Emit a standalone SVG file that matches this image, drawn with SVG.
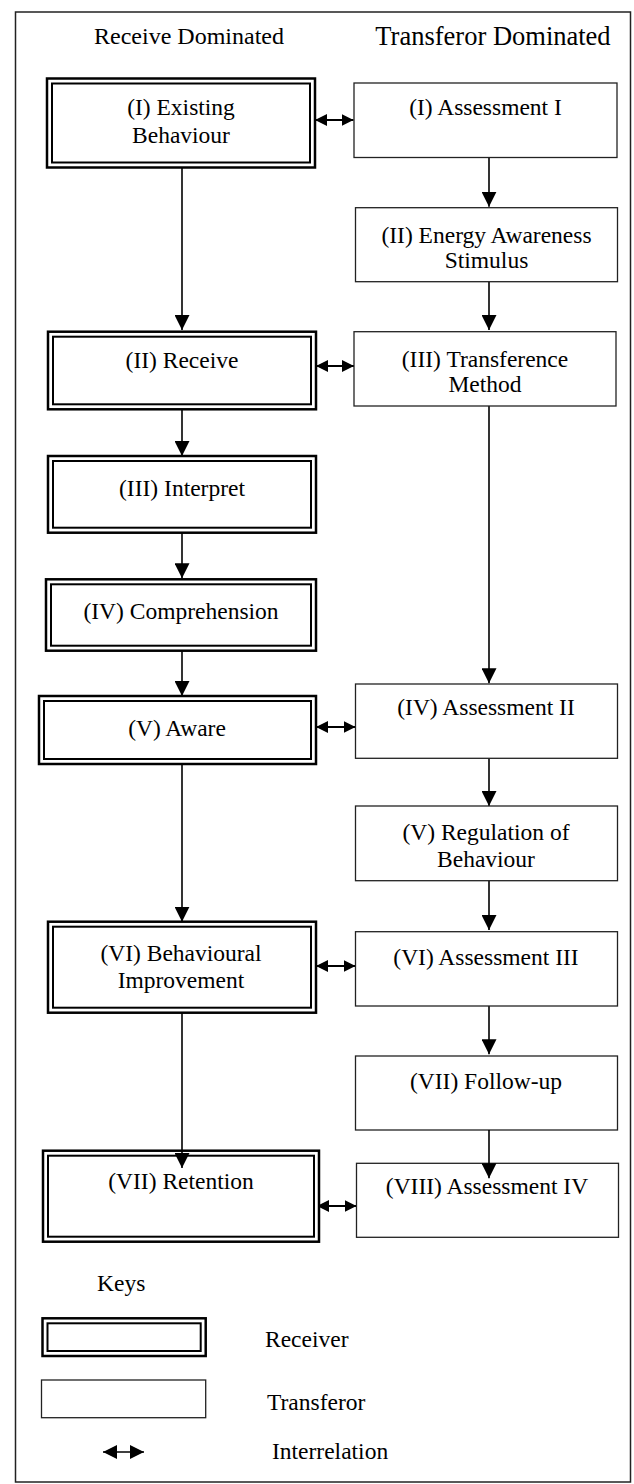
<svg xmlns="http://www.w3.org/2000/svg" width="634" height="1484" viewBox="0 0 634 1484">
<defs>
<marker id="ah" markerUnits="userSpaceOnUse" markerWidth="15" markerHeight="15" refX="15" refY="7.5" orient="auto" viewBox="0 0 15 15"><path d="M0,0 L15,7.5 L0,15 z" fill="#000"/></marker>
<marker id="dh" markerUnits="userSpaceOnUse" markerWidth="12" markerHeight="12" refX="12" refY="6" orient="auto-start-reverse" viewBox="0 0 12 12"><path d="M0,0 L12,6 L0,12 z" fill="#000"/></marker>
<marker id="kh" markerUnits="userSpaceOnUse" markerWidth="14" markerHeight="14" refX="14" refY="7" orient="auto-start-reverse" viewBox="0 0 14 14"><path d="M0,0 L14,7 L0,14 z" fill="#000"/></marker>
</defs>
<style>
.t{font-family:"Liberation Serif","Times New Roman",serif;font-size:23.5px;fill:#000;text-anchor:middle}
.k{font-family:"Liberation Serif","Times New Roman",serif;font-size:23.5px;fill:#000}
.o{fill:#fff;stroke:#000;stroke-width:2.5}
.i{fill:none;stroke:#000;stroke-width:2}
.s{fill:#fff;stroke:#222;stroke-width:1.3}
.c{stroke:#000;stroke-width:1.6;fill:none}
.d{stroke:#000;stroke-width:2;fill:none}
</style>
<rect x="15.5" y="12" width="615" height="1470" fill="#fff" stroke="#222" stroke-width="1.5"/>
<g id="headers">
<text class="t" x="189" y="43.5" style="font-size:24px">Receive Dominated</text>
<text class="t" x="493" y="45" style="font-size:26.5px">Transferor Dominated</text>
</g>
<g id="connectors">
<line class="c" x1="182" y1="168" x2="182" y2="330" marker-end="url(#ah)"/>
<line class="c" x1="182" y1="409.3" x2="182" y2="456" marker-end="url(#ah)"/>
<line class="c" x1="182" y1="532.7" x2="182" y2="578.3" marker-end="url(#ah)"/>
<line class="c" x1="182" y1="650.7" x2="182" y2="696" marker-end="url(#ah)"/>
<line class="c" x1="182" y1="764" x2="182" y2="921.7" marker-end="url(#ah)"/>
<line class="c" x1="489" y1="157.5" x2="489" y2="206.7" marker-end="url(#ah)"/>
<line class="c" x1="489" y1="281.7" x2="489" y2="330" marker-end="url(#ah)"/>
<line class="c" x1="489" y1="406" x2="489" y2="683.3" marker-end="url(#ah)"/>
<line class="c" x1="489" y1="758.3" x2="489" y2="806" marker-end="url(#ah)"/>
<line class="c" x1="489" y1="880.7" x2="489" y2="930" marker-end="url(#ah)"/>
<line class="c" x1="489" y1="1006" x2="489" y2="1054.3" marker-end="url(#ah)"/>
<line class="d" x1="315" y1="120" x2="353.5" y2="120" marker-start="url(#dh)" marker-end="url(#dh)"/>
<line class="d" x1="316" y1="366" x2="354" y2="366" marker-start="url(#dh)" marker-end="url(#dh)"/>
<line class="d" x1="316" y1="727" x2="355.5" y2="727" marker-start="url(#dh)" marker-end="url(#dh)"/>
<line class="d" x1="316" y1="966" x2="355.5" y2="966" marker-start="url(#dh)" marker-end="url(#dh)"/>
<line class="d" x1="317" y1="1206" x2="356.5" y2="1206" marker-start="url(#dh)" marker-end="url(#dh)"/>
</g>
<g id="r1"><rect class="o" x="47" y="78.5" width="268" height="89"/><rect class="i" x="52" y="83.5" width="258" height="79"/><text class="t" x="181" y="114.5">(I) Existing</text><text class="t" x="181" y="143">Behaviour</text></g>
<g id="r2"><rect class="o" x="48" y="331.7" width="268" height="77.6"/><rect class="i" x="53" y="336.7" width="258" height="67.6"/><text class="t" x="182" y="368">(II) Receive</text></g>
<g id="r3"><rect class="o" x="48" y="456" width="268" height="76.7"/><rect class="i" x="53" y="461" width="258" height="66.7"/><text class="t" x="182" y="496">(III) Interpret</text></g>
<g id="r4"><rect class="o" x="46" y="579.3" width="270" height="71.4"/><rect class="i" x="51" y="584.3" width="260" height="61.4"/><text class="t" x="181" y="619">(IV) Comprehension</text></g>
<g id="r5"><rect class="o" x="39" y="696" width="277" height="68"/><rect class="i" x="44" y="701" width="267" height="58"/><text class="t" x="177" y="736">(V) Aware</text></g>
<g id="r6"><rect class="o" x="48" y="921.7" width="268" height="91"/><rect class="i" x="53" y="926.7" width="258" height="81"/><text class="t" x="181" y="961">(VI) Behavioural</text><text class="t" x="181" y="988">Improvement</text></g>
<g id="r7"><rect class="o" x="43" y="1150.7" width="276" height="91"/><rect class="i" x="48" y="1155.7" width="266" height="81"/><text class="t" x="181" y="1189">(VII) Retention</text></g>
<line class="c" x1="182" y1="1012.7" x2="182" y2="1168" marker-end="url(#ah)"/>
<g id="t1"><rect class="s" x="354" y="83" width="263" height="74.5"/><text class="t" x="485.5" y="115">(I) Assessment I</text></g>
<g id="t2"><rect class="s" x="355.5" y="207.7" width="262" height="74"/><text class="t" x="486.5" y="243">(II) Energy Awareness</text><text class="t" x="486.5" y="268">Stimulus</text></g>
<g id="t3"><rect class="s" x="354" y="331.7" width="262" height="74.3"/><text class="t" x="485" y="366.7">(III) Transference</text><text class="t" x="485" y="392.3">Method</text></g>
<g id="t4"><rect class="s" x="355.5" y="684" width="262" height="74.3"/><text class="t" x="486" y="715">(IV) Assessment II</text></g>
<g id="t5"><rect class="s" x="355.5" y="806" width="262" height="74.7"/><text class="t" x="486" y="840">(V) Regulation of</text><text class="t" x="486" y="866.5">Behaviour</text></g>
<g id="t6"><rect class="s" x="355.5" y="931.7" width="262" height="74.3"/><text class="t" x="486" y="965">(VI) Assessment III</text></g>
<g id="t7"><rect class="s" x="355.5" y="1056" width="262" height="74"/><text class="t" x="486" y="1089">(VII) Follow-up</text></g>
<g id="t8"><rect class="s" x="356.5" y="1163.3" width="262" height="74"/><text class="t" x="487" y="1194">(VIII) Assessment IV</text></g>
<line class="c" x1="489" y1="1130" x2="489" y2="1178.3" marker-end="url(#ah)"/>
<g id="keys">
<text class="k" x="97" y="1291">Keys</text>
<g id="key-receiver"><rect class="o" x="42.5" y="1318.3" width="163.2" height="37.7"/><rect class="i" x="47.5" y="1323.3" width="153.2" height="27.7"/><text class="k" x="265" y="1346.7">Receiver</text></g>
<g id="key-transferor"><rect class="s" x="41.5" y="1380" width="164.2" height="37.7"/><text class="k" x="267" y="1410">Transferor</text></g>
<g id="key-interrelation"><line class="c" x1="103" y1="1452" x2="144" y2="1452" marker-start="url(#kh)" marker-end="url(#kh)"/><text class="k" x="272" y="1459">Interrelation</text></g>
</g>
</svg>
